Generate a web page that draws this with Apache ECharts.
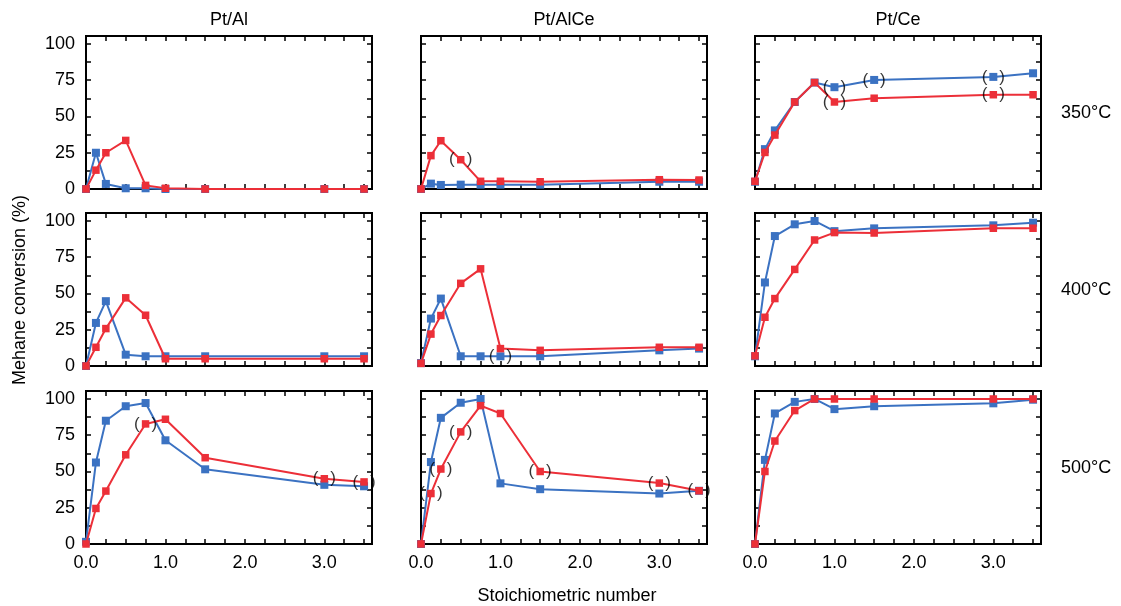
<!DOCTYPE html>
<html>
<head>
<meta charset="utf-8">
<script src="https://cdn.jsdelivr.net/npm/echarts@6/dist/echarts.min.js"></script>
<style>
html,body{margin:0;padding:0;background:#fff;}
#c{width:1121px;height:606px;}
</style>
</head>
<body>
<div id="c"></div>
<script>
// ---- data ----
const xVals = [0, 0.125, 0.25, 0.5, 0.75, 1.0, 1.5, 3.0, 3.5];
const catalysts = ['Pt/Al', 'Pt/AlCe', 'Pt/Ce'];
const temps = ['350°C', '400°C', '500°C'];
const yTicks = [0, 25, 50, 75, 100];
const xTicks = [0.0, 1.0, 2.0, 3.0];

// 350 °C
const al350Blue   = [0, 25, 3.5, 0.5, 0.5, 0, 0, 0, 0];
const al350Red    = [0, 13, 25, 33.5, 2.5, 0.5, 0, 0, 0];
const alce350Blue = [0, 3.7, 2.8, 3, 3, 3, 3, 5, 5];
const alce350Red  = [0, 23, 33.3, 20.2, 5.3, 5.3, 5, 6.4, 6.2];
const ce350Blue   = [5, 27.5, 40.4, 60, 73.4, 70.2, 75.2, 77.3, 79.8];
const ce350Red    = [5.3, 25.2, 37.2, 60, 73.4, 60, 62.6, 65, 65];
// 400 °C
const al400Blue   = [0, 29.7, 44.7, 7.8, 6.7, 6.7, 6.7, 6.7, 6.7];
const al400Red    = [0, 12.9, 25.8, 47, 35, 5, 5, 5, 5];
const alce400Blue = [2, 32.7, 46.5, 6.7, 6.7, 6.7, 6.7, 10.8, 12];
const alce400Red  = [1.8, 22, 34.8, 57, 67, 12, 10.8, 12.9, 12.9];
const ce400Blue   = [6.7, 57.6, 89.6, 97.7, 100, 93, 94.9, 97, 98.8];
const ce400Red    = [7, 33.6, 46.5, 66.6, 86.9, 92, 91.7, 95, 95];
// 500 °C
const al500Blue   = [1.5, 56.2, 85, 95, 97.2, 71.5, 51.5, 40.8, 39.8];
const al500Red    = [0, 24.5, 36.5, 61.5, 82.8, 86, 59.5, 45, 42.8];
const alce500Blue = [0, 56.5, 87, 97.4, 100, 41.8, 37.8, 34.8, 36.7];
const alce500Red  = [0, 34.8, 51.7, 77.3, 95.4, 90, 50, 42, 36.7];
const ce500Blue   = [0, 58, 90, 98, 100, 93, 95, 97, 99.5];
const ce500Red    = [0, 50, 71, 92, 100, 100, 100, 100, 100];

// parentheses: [series ('b'|'r'), index into xVals]
const parenAlce350 = [['r', 3]];
const parenCe350   = [['b', 5], ['b', 6], ['b', 7], ['r', 5], ['r', 7]];
const parenAlce400 = [['b', 5]];
const parenAl500   = [['r', 4], ['r', 7], ['r', 8]];
const parenAlce500 = [['r', 1], ['r', 2], ['r', 3], ['r', 6], ['r', 7], ['r', 8]];

const panels = [
  [al350Blue, al350Red, []], [alce350Blue, alce350Red, parenAlce350], [ce350Blue, ce350Red, parenCe350],
  [al400Blue, al400Red, []], [alce400Blue, alce400Red, parenAlce400], [ce400Blue, ce400Red, []],
  [al500Blue, al500Red, parenAl500], [alce500Blue, alce500Red, parenAlce500], [ce500Blue, ce500Red, []]
];

// ---- layout / style ----
const FONT = '"Liberation Sans", Arial, Helvetica, sans-serif';
const BLUE = '#3b72c2';
const RED = '#ec2f38';
const colLeft = [86, 421, 755];
const rowTop = [36, 213, 391];
const W = 286, H = 153;

const grids = [], xAxes = [], yAxes = [], series = [];
const mkTick = () => ({ show: true, inside: true, length: 5, lineStyle: { color: '#000', width: 1.5 } });

panels.forEach((p, k) => {
  const r = Math.floor(k / 3), c = k % 3;
  grids.push({ left: colLeft[c], top: rowTop[r], width: W, height: H, show: true,
    borderColor: '#000', borderWidth: 2, backgroundColor: 'transparent' });
  const xBase = () => ({ type: 'value', gridIndex: k, min: 0, max: 3.6, interval: 0.25,
    axisLine: { show: false, onZero: false }, splitLine: { show: false }, axisTick: mkTick() });
  xAxes.push(Object.assign(xBase(), { position: 'bottom',
    axisLabel: { show: r === 2, fontFamily: FONT, fontSize: 18, color: '#000', margin: 10,
      formatter: v => xTicks.some(t => Math.abs(t - v) < 1e-6) ? v.toFixed(1) : '' } }));
  xAxes.push(Object.assign(xBase(), { position: 'top', axisLabel: { show: false } }));
  const yBase = () => ({ type: 'value', gridIndex: k, min: 0, max: 105.5, interval: 12.5,
    axisLine: { show: false, onZero: false }, splitLine: { show: false }, axisTick: mkTick() });
  yAxes.push(Object.assign(yBase(), { position: 'left',
    axisLabel: { show: c === 0, fontFamily: FONT, fontSize: 18, color: '#000', margin: 11,
      formatter: v => yTicks.indexOf(v) >= 0 ? String(v) : '' } }));
  yAxes.push(Object.assign(yBase(), { position: 'right', axisLabel: { show: false } }));

  const [blue, red, paren] = p;
  const mk = (arr, color, size, z) => ({
    type: 'line', xAxisIndex: 2 * k, yAxisIndex: 2 * k, z: z, clip: false,
    data: xVals.map((x, i) => [x, arr[i]]),
    symbol: 'rect', symbolSize: size, showSymbol: true,
    lineStyle: { color: color, width: 2 }, itemStyle: { color: color },
    animation: false
  });
  series.push(mk(blue, BLUE, 8, 2));
  series.push(mk(red, RED, 7.5, 3));
  if (paren.length) {
    series.push({
      type: 'scatter', xAxisIndex: 2 * k, yAxisIndex: 2 * k, z: 5, clip: false,
      data: paren.map(([s, i]) => [xVals[i], (s === 'b' ? blue : red)[i]]),
      symbol: 'rect', symbolSize: 1, itemStyle: { color: 'rgba(0,0,0,0)' },
      label: { show: true, position: 'inside', formatter: '(\u2002\u2009)', color: '#000',
        fontFamily: FONT, fontSize: 17 },
      animation: false
    });
  }
});

const graphics = [];
catalysts.forEach((t, c) => graphics.push({ type: 'text', x: colLeft[c] + W / 2, y: 20,
  style: { text: t, font: '18px ' + FONT, fill: '#000', textAlign: 'center', textVerticalAlign: 'middle' } }));
temps.forEach((t, r) => graphics.push({ type: 'text', x: 1061, y: rowTop[r] + 77,
  style: { text: t, font: '18px ' + FONT, fill: '#000', textVerticalAlign: 'middle' } }));
graphics.push({ type: 'text', x: 20, y: 290, rotation: Math.PI / 2,
  style: { text: 'Mehane conversion (%)', font: '18px ' + FONT, fill: '#000', textAlign: 'center', textVerticalAlign: 'middle' } });
graphics.push({ type: 'text', x: 567, y: 596,
  style: { text: 'Stoichiometric number', font: '18px ' + FONT, fill: '#000', textAlign: 'center', textVerticalAlign: 'middle' } });

const chart = echarts.init(document.getElementById('c'), null, { renderer: 'canvas' });
chart.setOption({
  animation: false,
  backgroundColor: '#fff',
  grid: grids, xAxis: xAxes, yAxis: yAxes, series: series, graphic: graphics
});
</script>
</body>
</html>
